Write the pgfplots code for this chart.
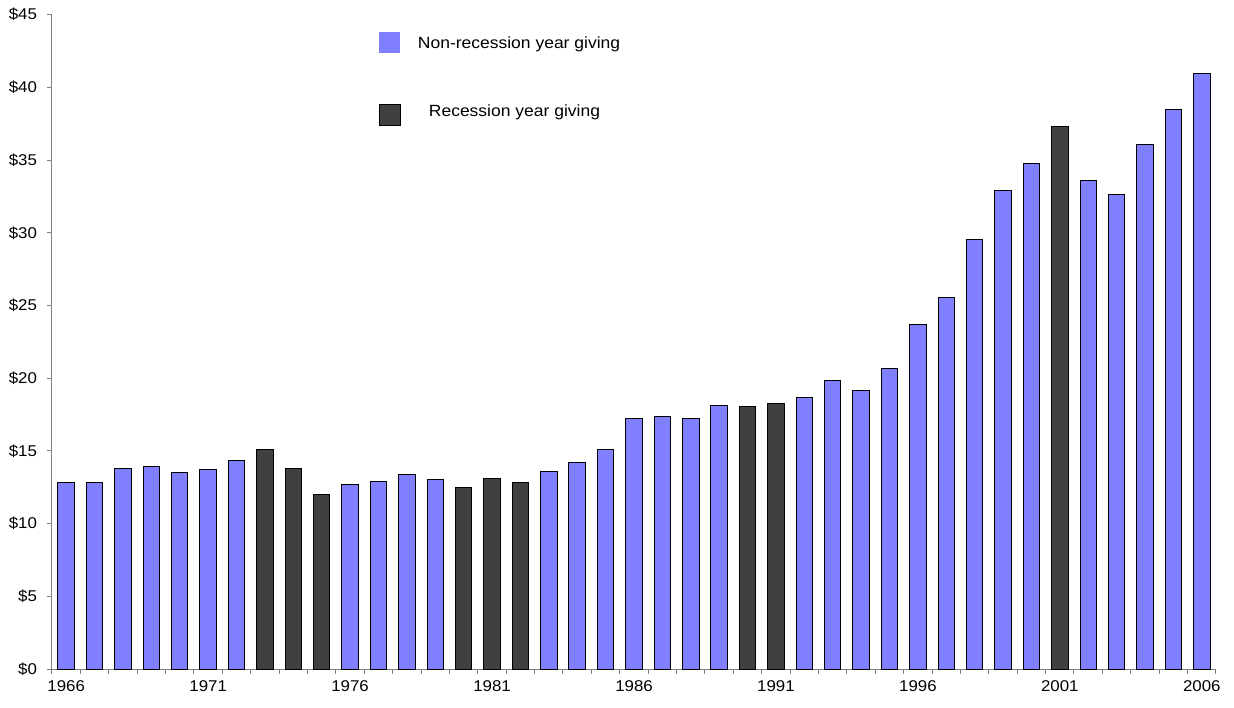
\documentclass[border=0pt]{standalone}
\usepackage{fontspec}
\setmainfont{Liberation Sans}[FakeStretch=1.08]
\usepackage{pgfplots}
\usepackage{pgfplotstable}
\pgfplotsset{compat=1.18}

\definecolor{nonrec}{RGB}{128,128,255}
\definecolor{rec}{RGB}{64,64,64}
\definecolor{axisgray}{RGB}{128,128,128}

\pgfplotsset{
  sqlegend/.style={legend image code/.code={\draw[##1] (0pt,-5.25pt) rectangle (10.5pt,5.25pt);}},
  sqfilllegend/.style={legend image code/.code={\path[##1, draw=none] (0pt,-5.25pt) rectangle (10.5pt,5.25pt);}}
}

% Giving per year, dollars
\pgfplotstableread{
year giving
1966 12.81
1967 12.81
1968 13.78
1969 13.96
1970 13.50
1971 13.69
1972 14.33
1976 12.72
1977 12.93
1978 13.39
1979 13.04
1983 13.59
1984 14.17
1985 15.11
1986 17.26
1987 17.35
1988 17.26
1989 18.13
1992 18.68
1993 19.82
1994 19.14
1995 20.69
1996 23.68
1997 25.58
1998 29.53
1999 32.93
2000 34.75
2002 33.58
2003 32.63
2004 36.05
2005 38.50
2006 40.97
}\nonrecession

\pgfplotstableread{
year giving
1973 15.11
1974 13.78
1975 11.99
1980 12.47
1981 13.11
1982 12.84
1990 18.04
1991 18.29
2001 37.28
}\recession

\begin{document}
\begin{tikzpicture}
\path[use as bounding box] (-26pt,-19pt) rectangle (591pt,334.5pt);
\begin{axis}[
  at={(0,0)}, anchor=south west,
  scale only axis, width=582pt, height=327.15pt,
  xmin=1965.5, xmax=2006.5, ymin=0, ymax=45,
  axis x line*=bottom, axis y line*=left,
  axis line style={axisgray, line width=0.5pt, -},
  xtick={1966,1971,...,2006},
  xticklabels={1966,1971,1976,1981,1986,1991,1996,2001,2006},
  minor xtick={1965.5,1966.5,...,2006.5},
  ytick={0,5,...,45},
  yticklabels={\$0,\$5,\$10,\$15,\$20,\$25,\$30,\$35,\$40,\$45},
  tick align=outside,
  major tick length=2.5pt, minor tick length=2.5pt,
  tick style={axisgray, line width=0.5pt},
  major x tick style={draw=none},
  tick label style={font=\fontsize{7.8}{9.4}\selectfont, text=black},
  yticklabel style={xshift=-1.5pt},
  legend style={at={(rel axis cs:0.2805,0.974)}, anchor=north west,
    draw=none, fill=none, inner sep=0pt, row sep=24pt,
    font=\fontsize{8.1}{9.7}\selectfont},
  legend cell align=left,
]
\addplot[ybar, bar width=0.58, bar shift=0pt, fill=nonrec, draw=black,
  line width=0.5pt, forget plot] table[x=year, y=giving] {\nonrecession};
\addplot[ybar, bar width=0.58, bar shift=0pt, fill=rec, draw=black,
  line width=0.5pt, forget plot] table[x=year, y=giving] {\recession};

\addlegendimage{sqfilllegend, fill=nonrec}
\addlegendentry{\hspace{6.5pt}\raisebox{-1.5pt}{Non-recession year giving}}
\addlegendimage{sqlegend, fill=rec, draw=black, line width=0.5pt}
\addlegendentry{\hspace{12pt}\raisebox{3pt}{Recession year giving}}
\end{axis}
\end{tikzpicture}
\end{document}
